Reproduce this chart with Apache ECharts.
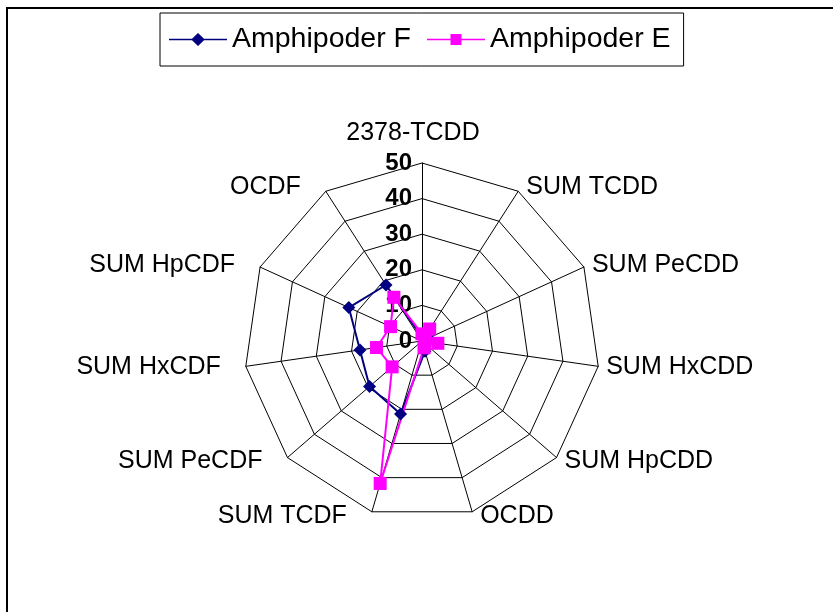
<!DOCTYPE html>
<html>
<head>
<meta charset="utf-8">
<script src="https://cdn.jsdelivr.net/npm/echarts@6/dist/echarts.min.js"></script>
<style>
html,body{margin:0;padding:0;background:#fff;}
#chart{width:833px;height:612px;}
</style>
</head>
<body>
<div id="chart"></div>
<script>
// Categories in clockwise order starting from the top
const categories = ['2378-TCDD','SUM TCDD','SUM PeCDD','SUM HxCDD','SUM HpCDD','OCDD','SUM TCDF','SUM PeCDF','SUM HxCDF','SUM HpCDF','OCDF'];
const seriesNames = ['Amphipoder F','Amphipoder E'];
const amphipoderF = [1, 3, 2, 1, 1, 3, 21.4, 19.5, 17.6, 22.6, 18.7];
const amphipoderE = [2, 4, 1, 4.5, 1, 2, 41.7, 11.1, 12.9, 9.7, 14.6];
const axisMax = 50;
const tickLabels = ['0','10','20','30','40','50'];

// ECharts radar places indicators counter-clockwise; reorder to get clockwise layout
const order = [0];
for (let i = categories.length - 1; i >= 1; i--) order.push(i);
const reorder = arr => order.map(i => arr[i]);

const FONT = 'Liberation Sans, Arial, sans-serif';
const NAME_GAP = 5;

// per-label horizontal nudges (Excel-like label placement)
const rich = {};
categories.forEach((c, i) => {
  const theta = i * 2 * Math.PI / categories.length; // clockwise from top
  const s = Math.sin(theta);
  let pad;
  if (i === 0) pad = [0, 18, 12, 0];
  else if (s > 0) pad = [0, 0, 0, Math.max(0, 8 - NAME_GAP * s)];
  else pad = [0, Math.max(0, 25 - NAME_GAP * Math.abs(s)), 0, 0];
  rich['n' + i] = { fontSize: 25, color: '#000', fontFamily: FONT, padding: pad };
});

const indicators = reorder(categories).map((name, k) => {
  const ind = { name: name, min: 0, max: axisMax };
  if (k === 0) {
    ind.axisLabel = {
      show: true, color: '#000', fontSize: 24, fontWeight: 'bold', fontFamily: FONT, margin: 10,
      formatter: v => tickLabels[Math.round(v / 10)] !== undefined ? tickLabels[Math.round(v / 10)] : String(v)
    };
  }
  return ind;
});

const chart = echarts.init(document.getElementById('chart'), null, { renderer: 'canvas' });
const option = {
  backgroundColor: '#fff',
  animation: false,
  legend: {
    left: 160, top: 13,
    padding: [12, 13, 12, 9],
    itemGap: 16,
    itemWidth: 58, itemHeight: 14,
    borderColor: '#000', borderWidth: 1,
    textStyle: { fontSize: 28.5, color: '#000', fontFamily: FONT },
    data: [
      { name: seriesNames[0], icon: 'path://M0,6.3 H23 L29,0.5 L35,6.3 H58 V7.7 H35 L29,13.5 L23,7.7 H0 Z' },
      { name: seriesNames[1], icon: 'path://M0,6.3 H23.5 V1.5 H34.5 V6.3 H58 V7.7 H34.5 V12.5 H23.5 V7.7 H0 Z' }
    ]
  },
  radar: {
    center: [422, 341],
    radius: 178,
    startAngle: 90,
    splitNumber: 5,
    shape: 'polygon',
    nameGap: NAME_GAP,
    axisName: {
      color: '#000', fontSize: 25, fontFamily: FONT,
      formatter: name => '{n' + categories.indexOf(name) + '|' + name + '}',
      rich: rich
    },
    axisLine: { show: true, lineStyle: { color: '#000', width: 1 } },
    splitLine: { show: true, lineStyle: { color: '#000', width: 1 } },
    splitArea: { show: false },
    axisTick: { show: false },
    axisLabel: { show: false },
    indicator: indicators
  },
  series: [{
    type: 'radar',
    data: [
      {
        name: seriesNames[0],
        value: reorder(amphipoderF),
        symbol: 'diamond', symbolSize: 13,
        itemStyle: { color: '#000080' },
        lineStyle: { color: '#000080', width: 2 }
      },
      {
        name: seriesNames[1],
        value: reorder(amphipoderE),
        symbol: 'rect', symbolSize: 13,
        itemStyle: { color: '#FF00FF' },
        lineStyle: { color: '#FF00FF', width: 2 }
      }
    ]
  }],
  graphic: [
    { type: 'line', shape: { x1: 6, y1: 8, x2: 833, y2: 8 }, style: { stroke: '#000', lineWidth: 2 } },
    { type: 'line', shape: { x1: 7, y1: 8, x2: 7, y2: 612 }, style: { stroke: '#000', lineWidth: 2 } }
  ]
};
chart.setOption(option);
</script>
</body>
</html>
